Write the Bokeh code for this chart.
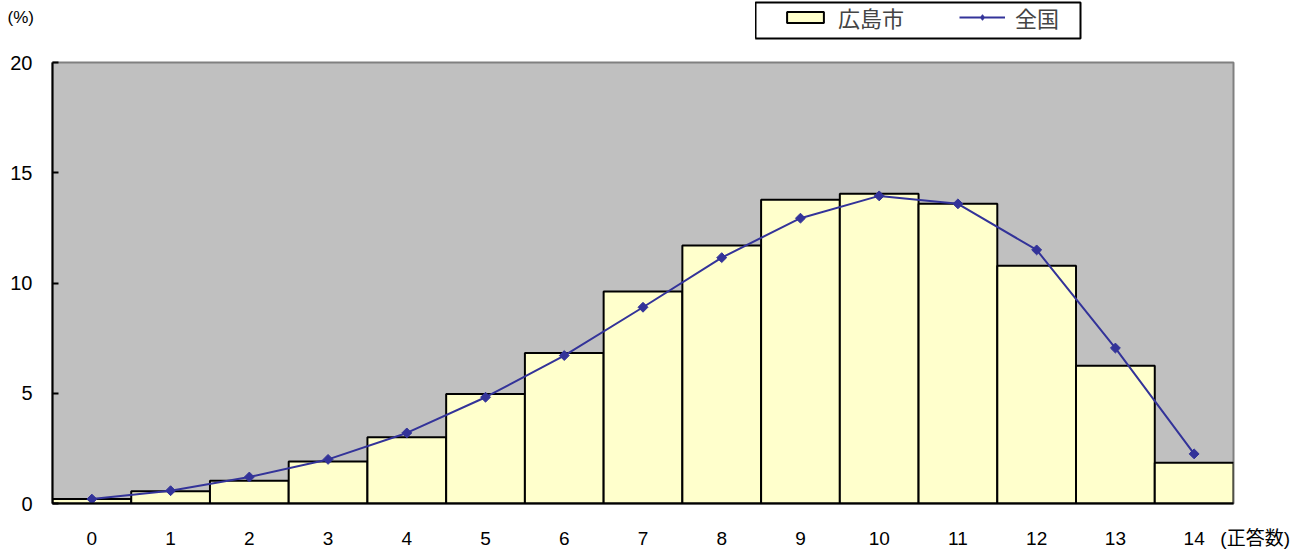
import math
from bokeh.plotting import figure
from bokeh.layouts import column, row
from bokeh.models import Range1d, Legend, LegendItem, Label, FixedTicker
from bokeh.embed import file_html
from bokeh.resources import INLINE

categories = list(range(15))
hiroshima = [0.2, 0.55, 1.03, 1.9, 3.0, 4.97, 6.82, 9.61, 11.7, 13.77, 14.05, 13.59, 10.78, 6.25, 1.85]
national = [0.2, 0.58, 1.2, 2.0, 3.2, 4.82, 6.71, 8.9, 11.15, 12.94, 13.95, 13.59, 11.5, 7.05, 2.25]
y_ticks = [0, 5, 10, 15, 20]
series_names = ["広島市", "全国"]
y_unit = "(%)"
x_unit = "(正答数)"

CJK = "Noto Sans CJK JP"
LAT = "Liberation Sans"
BAR_FILL = "#FFFFCC"
NAVY = "#333399"


def add_series(fig, marker="square", angle=math.pi / 4, size=7):
    b = fig.vbar(x=categories, top=hiroshima, width=1.0, bottom=0,
                 fill_color=BAR_FILL, line_color="black", line_width=2)
    l = fig.line(categories, national, line_color=NAVY, line_width=2)
    m = fig.scatter(categories, national, marker=marker, angle=angle, size=size,
                    fill_color=NAVY, line_color=NAVY)
    return b, l, m


# ---- header: unit label ----
f_pct = figure(width=755, height=50, output_backend="svg", toolbar_location=None,
               x_range=Range1d(0, 755), y_range=Range1d(50, 0),
               x_axis_location=None, y_axis_location=None,
               min_border=0, min_border_left=0, min_border_right=0,
               min_border_top=0, min_border_bottom=0)
f_pct.outline_line_color = None
f_pct.grid.visible = False
f_pct.add_layout(Label(x=7, y=21, text=y_unit, text_font=LAT, text_font_size="17px",
                       text_baseline="middle", text_color="black"))

# ---- header: legend box (series drawn out of view, only their legend samples show) ----
f_leg = figure(width=546, height=50, output_backend="svg", toolbar_location=None,
               x_range=Range1d(100, 101), y_range=Range1d(100, 101),
               x_axis_location=None, y_axis_location=None,
               min_border_left=0, min_border_right=221, min_border_top=2, min_border_bottom=12)
f_leg.outline_line_color = "black"
f_leg.outline_line_width = 2
f_leg.grid.visible = False
lg_bar, lg_line, lg_mark = add_series(f_leg, marker="diamond", angle=0, size=11)
legend = Legend(items=[LegendItem(label=series_names[0], renderers=[lg_bar]),
                       LegendItem(label=series_names[1], renderers=[lg_line, lg_mark])],
                orientation="horizontal", location=(27, 5),
                label_text_font=CJK, label_text_font_size="22px",
                glyph_width=46, glyph_height=14, spacing=55, padding=0,
                label_standoff=10, label_width=66,
                border_line_color=None, background_fill_alpha=0.0, margin=0)
f_leg.add_layout(legend, "center")

# ---- main chart ----
p = figure(width=1301, height=499, frame_width=1181, frame_height=441,
           output_backend="svg", toolbar_location=None,
           x_range=Range1d(-0.5, 14.5), y_range=Range1d(0, 20),
           min_border_left=52, min_border_right=68, min_border_top=12, min_border_bottom=46)
p.border_fill_color = "white"
p.background_fill_color = "#C0C0C0"
p.outline_line_color = "#808080"
p.outline_line_width = 2
p.grid.visible = False
add_series(p)

x_end = 14.5
p.xaxis.ticker = FixedTicker(ticks=categories + [x_end])
p.xaxis.major_label_overrides = {x_end: "\u3000\u3000\u00a0" + x_unit}
p.yaxis.ticker = FixedTicker(ticks=y_ticks)
for ax in (p.xaxis[0], p.yaxis[0]):
    ax.axis_line_color = "black"
    ax.axis_line_width = 2
    ax.major_label_text_font = LAT + ", " + CJK
    ax.major_label_text_font_size = "19px"
    ax.major_label_text_color = "black"
    ax.minor_tick_line_color = None
p.yaxis.major_label_text_font_size = "20px"
p.yaxis.major_tick_in = 6
p.yaxis.major_tick_out = 0
p.yaxis.major_tick_line_color = "black"
p.yaxis.major_tick_line_width = 2
p.yaxis.major_label_standoff = 20
p.xaxis.major_tick_line_color = None
p.xaxis.major_label_standoff = 18

layout = column(row(f_pct, f_leg, spacing=0), p, spacing=0)
open("out.html", "w").write(file_html(layout, INLINE))
